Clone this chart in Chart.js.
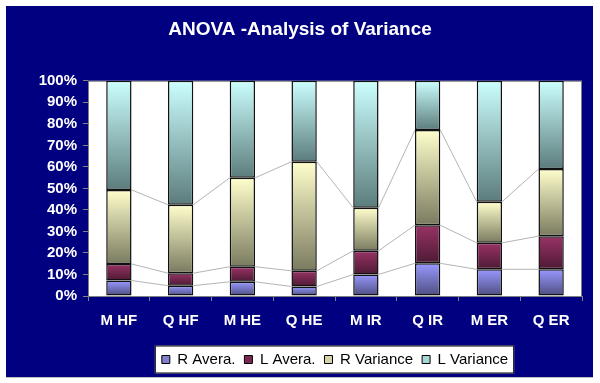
<!DOCTYPE html>
<html lang="en">
  <head>
    <meta charset="UTF-8">
    <title>ANOVA -Analysis of Variance</title>
    <script src="https://cdn.jsdelivr.net/npm/chart.js"></script>
    <style>
      html, body { margin: 0; padding: 0; background: #fff; }
      #wrap { width: 600px; height: 383px; }
    </style>
  </head>
  <body>
    <div id="wrap"><canvas id="Chart" width="600" height="383"></canvas></div>
    <script>
      // values, in percent of each bar
      var categories = ["M HF", "Q HF", "M HE", "Q HE", "M IR", "Q IR", "M ER", "Q ER"];
      var rAvera     = [7.2, 4.8, 6.6, 4.4, 10.0, 15.2, 12.4, 12.4];
      var lAvera     = [7.7, 5.8, 7.0, 7.3, 11.0, 17.7, 12.3, 15.4];
      var rVariance  = [34.4, 31.8, 41.3, 50.7, 20.0, 44.2, 19.1, 31.2];
      var lVariance  = [50.7, 57.6, 45.1, 37.6, 59.0, 22.9, 56.2, 41.0];
      var seriesNames = ["R Avera.", "L Avera.", "R Variance", "L Variance"];
      var yTicks = [0, 10, 20, 30, 40, 50, 60, 70, 80, 90, 100];

      var allSeries = [rAvera, lAvera, rVariance, lVariance];
      // top / bottom gradient colours and legend swatch colour
      var tops    = ["#9999ff", "#993366", "#ffffcc", "#ccffff"];
      var bottoms = ["#4d4d80", "#4d1a33", "#7a7a60", "#5c7c7c"];
      var swatch  = ["#8080cc", "#7a2850", "#d4d4a8", "#a8d4d4"];

      function segmentFill(dsIndex) {
        return function (ctx) {
          if (ctx.type !== 'data') return swatch[dsIndex];
          var chart = ctx.chart;
          var y = chart.scales.y;
          if (!chart.chartArea || !y) return swatch[dsIndex];
          var i = ctx.dataIndex;
          var base = 0;
          for (var d = 0; d < dsIndex; d++) base += allSeries[d][i];
          var top = base + allSeries[dsIndex][i];
          var y0 = y.getPixelForValue(top);
          var y1 = y.getPixelForValue(base);
          if (!isFinite(y0) || !isFinite(y1) || y0 === y1) return swatch[dsIndex];
          var g = chart.ctx.createLinearGradient(0, y0, 0, y1);
          g.addColorStop(0, tops[dsIndex]);
          g.addColorStop(1, bottoms[dsIndex]);
          return g;
        };
      }

      var datasets = allSeries.map(function (vals, k) {
        return {
          label: seriesNames[k],
          data: vals,
          backgroundColor: segmentFill(k),
          borderColor: "#111111",
          borderWidth: 1.5,
          borderSkipped: false,
          categoryPercentage: 1,
          barPercentage: 0.41
        };
      });

      var frame = {
        id: 'frame',
        beforeDraw: function (chart) {
          var c = chart.ctx, a = chart.chartArea;
          c.save();
          c.fillStyle = "#ffffff";
          c.fillRect(0, 0, chart.width, chart.height);
          c.fillStyle = "#000080";
          c.fillRect(6, 6, 587, 371);
          c.fillStyle = "#c0c0c0";
          c.fillRect(6, 377, 587, 1);
          // plot area
          c.fillStyle = "#ffffff";
          c.fillRect(a.left, a.top, a.right - a.left, a.bottom - a.top);
          c.strokeStyle = "#808080";
          c.lineWidth = 1;
          c.strokeRect(a.left + 0.5, a.top + 0.5, a.right - a.left - 1, a.bottom - a.top);
          // legend box
          var hb = chart.legend && chart.legend.legendHitBoxes;
          if (hb && hb.length) {
            var first = hb[0], last = hb[hb.length - 1];
            var mid = first.top + first.height / 2;
            var l = first.left - 7, r = last.left + last.width + 6;
            c.fillStyle = "#ffffff";
            c.fillRect(l, mid - 14, r - l, 28);
            c.strokeStyle = "#000000";
            c.strokeRect(l + 0.5, mid - 13.5, r - l - 1, 27);
          }
          c.restore();
        },
        beforeDatasetsDraw: function (chart) {
          // series lines between stacked segments
          var c = chart.ctx;
          c.save();
          c.strokeStyle = "#b4b4b4";
          c.lineWidth = 1;
          for (var d = 0; d < chart.data.datasets.length - 1; d++) {
            var bars = chart.getDatasetMeta(d).data;
            for (var i = 0; i < bars.length - 1; i++) {
              var p = bars[i], q = bars[i + 1];
              c.beginPath();
              c.moveTo(p.x + p.width / 2, p.y);
              c.lineTo(q.x - q.width / 2, q.y);
              c.stroke();
            }
          }
          c.restore();
        }
      };

      var fam = "Arial, 'Liberation Sans', sans-serif";
      var tickFont = { family: fam, size: 15, weight: 'bold' };

      new Chart("Chart", {
        type: "bar",
        data: { labels: categories, datasets: datasets },
        options: {
          responsive: false,
          devicePixelRatio: 1,
          animation: false,
          layout: { padding: { left: 18, right: 18, top: 0, bottom: 6 } },
          scales: {
            x: {
              stacked: true,
              grid: { display: true, drawOnChartArea: false, tickLength: 5, color: "#808080", offset: true },
              border: { display: false },
              ticks: { color: "#ffffff", font: tickFont, padding: 11, maxRotation: 0 },
              afterFit: function (s) { s.height = 47; }
            },
            y: {
              stacked: true,
              min: 0,
              max: 100,
              afterBuildTicks: function (s) { s.ticks = yTicks.map(function (v) { return { value: v }; }); },
              grid: { display: true, drawOnChartArea: false, tickLength: 5, color: "#808080" },
              border: { display: false },
              ticks: {
                color: "#ffffff",
                font: tickFont,
                padding: 6,
                callback: function (v) { return v + "%"; }
              },
              afterFit: function (s) { s.width = 70; }
            }
          },
          plugins: {
            title: {
              display: true,
              text: "ANOVA -Analysis of Variance",
              color: "#ffffff",
              font: { family: fam, size: 19, weight: 'bold' },
              padding: { top: 18, bottom: 40 }
            },
            legend: {
              position: "bottom",
              fullSize: false,
              labels: {
                color: "#000000",
                font: { family: fam, size: 15 },
                boxWidth: 8,
                boxHeight: 8,
                padding: 9,
                generateLabels: function (chart) {
                  return chart.data.datasets.map(function (ds, k) {
                    return {
                      text: ds.label,
                      fillStyle: swatch[k],
                      strokeStyle: "#000000",
                      lineWidth: 1,
                      fontColor: "#000000",
                      datasetIndex: k
                    };
                  });
                }
              }
            },
            tooltip: { enabled: false }
          }
        },
        plugins: [frame]
      });
    </script>
  </body>
</html>
